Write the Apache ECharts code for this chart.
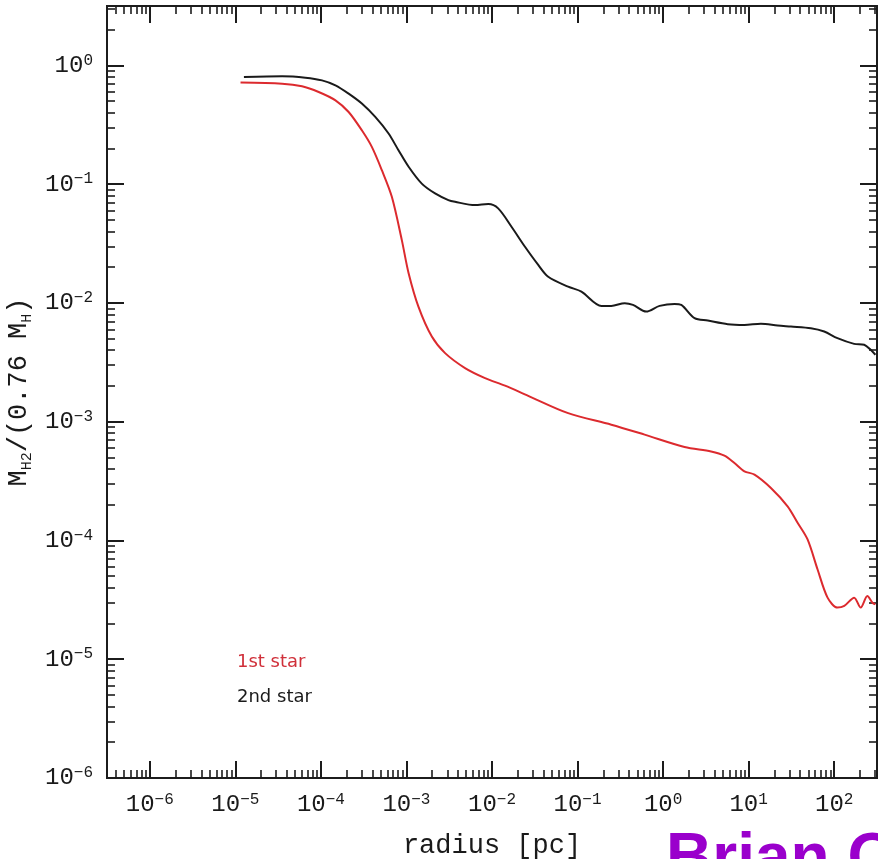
<!DOCTYPE html>
<html>
<head>
<meta charset="utf-8">
<script src="https://cdn.jsdelivr.net/npm/echarts@6/dist/echarts.min.js"></script>
<style>
  html, body { margin: 0; padding: 0; background: #ffffff; }
  #chart { width: 878px; height: 859px; }
</style>
</head>
<body>
<div id="chart"></div>
<script>
// Molecular hydrogen mass fraction vs. enclosed radius, first and second star.
const radiusFirst = [1.15e-5, 3.52e-5, 6.02e-5, 9.42e-5, 1.48e-4, 2.11e-4, 3.01e-4, 3.94e-4, 5.16e-4,
  6.75e-4, 8.83e-4, 1.06e-3, 1.38e-3, 1.98e-3, 2.83e-3, 4.84e-3, 8.29e-3, 1.42e-2, 2.65e-2, 7.76e-2,
  0.248, 0.608, 1.78, 3.64, 5.21, 6.82, 8.92, 11.7, 18.2, 28.5, 37.3, 48.8, 63.9, 83.6, 109, 131,
  171, 204, 244, 280, 303];
const fracFirst = [0.716, 0.702, 0.667, 0.597, 0.508, 0.405, 0.284, 0.206, 0.131,
  0.0782, 0.0338, 0.0178, 0.00931, 0.00521, 0.00378, 0.00283, 0.00233, 0.00201, 0.00165, 0.00118,
  0.000944, 0.000778, 0.000613, 0.000562, 0.000518, 0.000449, 0.000382, 0.000359, 0.000277, 0.000194,
  0.000141, 0.000102, 5.70e-5, 3.30e-5, 2.72e-5, 2.81e-5, 3.30e-5, 2.72e-5, 3.40e-5, 2.99e-5, 2.90e-5];

const radiusSecond = [1.26e-5, 3.52e-5, 6.59e-5, 1.03e-4, 1.48e-4, 2.11e-4, 3.01e-4, 4.32e-4, 6.18e-4,
  8.07e-4, 1.06e-3, 1.51e-3, 2.16e-3, 3.09e-3, 3.70e-3, 6.33e-3, 9.06e-3, 1.18e-2, 1.69e-2, 2.43e-2,
  3.47e-2, 4.54e-2, 7.76e-2, 0.111, 0.190, 0.248, 0.356, 0.444, 0.635, 0.910, 1.36, 1.63,
  2.33, 3.33, 5.70, 8.92, 13.9, 21.8, 31.2, 53.3, 76.4, 109, 171, 224, 267, 303];
const fracSecond = [0.798, 0.809, 0.788, 0.748, 0.679, 0.578, 0.477, 0.368, 0.267,
  0.193, 0.140, 0.101, 0.0835, 0.0734, 0.0710, 0.0666, 0.0679, 0.0625, 0.0438, 0.0297,
  0.0209, 0.0166, 0.0137, 0.01245, 0.00944, 0.00944, 0.00994, 0.00962, 0.00845, 0.00944,
  0.00981, 0.00962, 0.00744, 0.00710, 0.00662, 0.00653, 0.00667, 0.00645, 0.00632, 0.00612,
  0.00574, 0.00505, 0.00452, 0.00444, 0.00403, 0.00366];

const seriesNames = ['1st star', '2nd star'];
const xDecades = [-6, -5, -4, -3, -2, -1, 0, 1, 2];
const yDecades = [-6, -5, -4, -3, -2, -1, 0];
const xRange = [-6.5, 2.5];   // log10 of radius [pc]
const yRange = [-6, 0.5];     // log10 of mass fraction

const mono = '"Liberation Mono", "DejaVu Sans Mono", monospace';
const frameColor = '#1c1c1c';

// minor ticks at 2..9 x 10^n, in log10 units
function minorTicks(range) {
  const out = [];
  for (let n = Math.floor(range[0]) - 1; n <= Math.ceil(range[1]); n++) {
    for (let k = 2; k <= 9; k++) {
      const v = n + Math.log10(k);
      if (v > range[0] && v < range[1]) out.push(v);
    }
  }
  return out;
}

function powLabel(v) {
  const e = Math.round(v);
  const s = e < 0 ? '\u2212' + (-e) : String(e);
  return '{b|10}{s|' + s + '}';
}

const labelRich = {
  b: { fontFamily: mono, fontSize: 24, color: '#1a1a1a', lineHeight: 26 },
  s: { fontFamily: mono, fontSize: 16, color: '#1a1a1a', verticalAlign: 'top', lineHeight: 16 }
};

function makeAxis(kind, position, range, major, isMajor, withLabel, extra) {
  const ticks = isMajor ? major : minorTicks(range);
  return Object.assign({
    type: 'value',
    position: position,
    min: range[0],
    max: range[1],
    axisLine: { show: true, onZero: false, lineStyle: { color: frameColor, width: 2 } },
    axisTick: {
      show: true, inside: true, customValues: ticks,
      length: isMajor ? 17 : 8,
      lineStyle: { color: frameColor, width: isMajor ? 2 : 1.6 }
    },
    axisLabel: withLabel ? {
      show: true, customValues: major, formatter: powLabel, rich: labelRich, margin: 14
    } : { show: false },
    splitLine: { show: false }
  }, extra || {});
}

const xAxes = [
  makeAxis('x', 'bottom', xRange, xDecades, true, true, {
    name: 'radius [pc]', nameLocation: 'middle', nameGap: 54,
    nameTextStyle: { fontFamily: mono, fontSize: 27, color: '#1a1a1a' }
  }),
  makeAxis('x', 'bottom', xRange, xDecades, false, false),
  makeAxis('x', 'top', xRange, xDecades, true, false),
  makeAxis('x', 'top', xRange, xDecades, false, false)
];
const yAxes = [
  makeAxis('y', 'left', yRange, yDecades, true, true, {
    name: '{m|M}{sub|H2}{m|/(0.76 M}{sub|H}{m|)}',
    nameLocation: 'middle', nameGap: 65,
    nameTextStyle: {
      rich: {
        m: { fontFamily: mono, fontSize: 27, color: '#1a1a1a', lineHeight: 30 },
        sub: { fontFamily: mono, fontSize: 15, color: '#1a1a1a', verticalAlign: 'bottom', lineHeight: 16 }
      }
    }
  }),
  makeAxis('y', 'left', yRange, yDecades, false, false),
  makeAxis('y', 'right', yRange, yDecades, true, false),
  makeAxis('y', 'right', yRange, yDecades, false, false)
];

function toLog(rs, fs) {
  return rs.map((r, i) => [Math.log10(r), Math.log10(fs[i])]);
}

const chart = echarts.init(document.getElementById('chart'), null, { renderer: 'canvas' });
chart.setOption({
  backgroundColor: '#ffffff',
  animation: false,
  grid: { left: 107, right: 1, top: 6, bottom: 81, containLabel: false, outerBoundsMode: 'none' },
  xAxis: xAxes,
  yAxis: yAxes,
  series: [
    {
      name: seriesNames[0], type: 'line', xAxisIndex: 0, yAxisIndex: 0,
      data: toLog(radiusFirst, fracFirst), showSymbol: false, smooth: 0.3,
      lineStyle: { color: '#dc2a2e', width: 2 }, z: 3
    },
    {
      name: seriesNames[1], type: 'line', xAxisIndex: 0, yAxisIndex: 0,
      data: toLog(radiusSecond, fracSecond), showSymbol: false, smooth: 0.3,
      lineStyle: { color: '#1a1a1a', width: 2 }, z: 3
    }
  ],
  graphic: [
    { type: 'text', x: 237, y: 662, style: { text: seriesNames[0], fill: '#d0303a',
      font: '18px "DejaVu Sans", sans-serif', verticalAlign: 'middle' } },
    { type: 'text', x: 237, y: 697, style: { text: seriesNames[1], fill: '#1a1a1a',
      font: '18px "DejaVu Sans", sans-serif', verticalAlign: 'middle' } },
    { type: 'text', x: 666, y: 828, style: { text: "Brian O'Shea", fill: '#9a00cc',
      font: 'bold 64px "Liberation Sans", Arial, sans-serif', verticalAlign: 'top' } }
  ]
});
</script>
</body>
</html>
